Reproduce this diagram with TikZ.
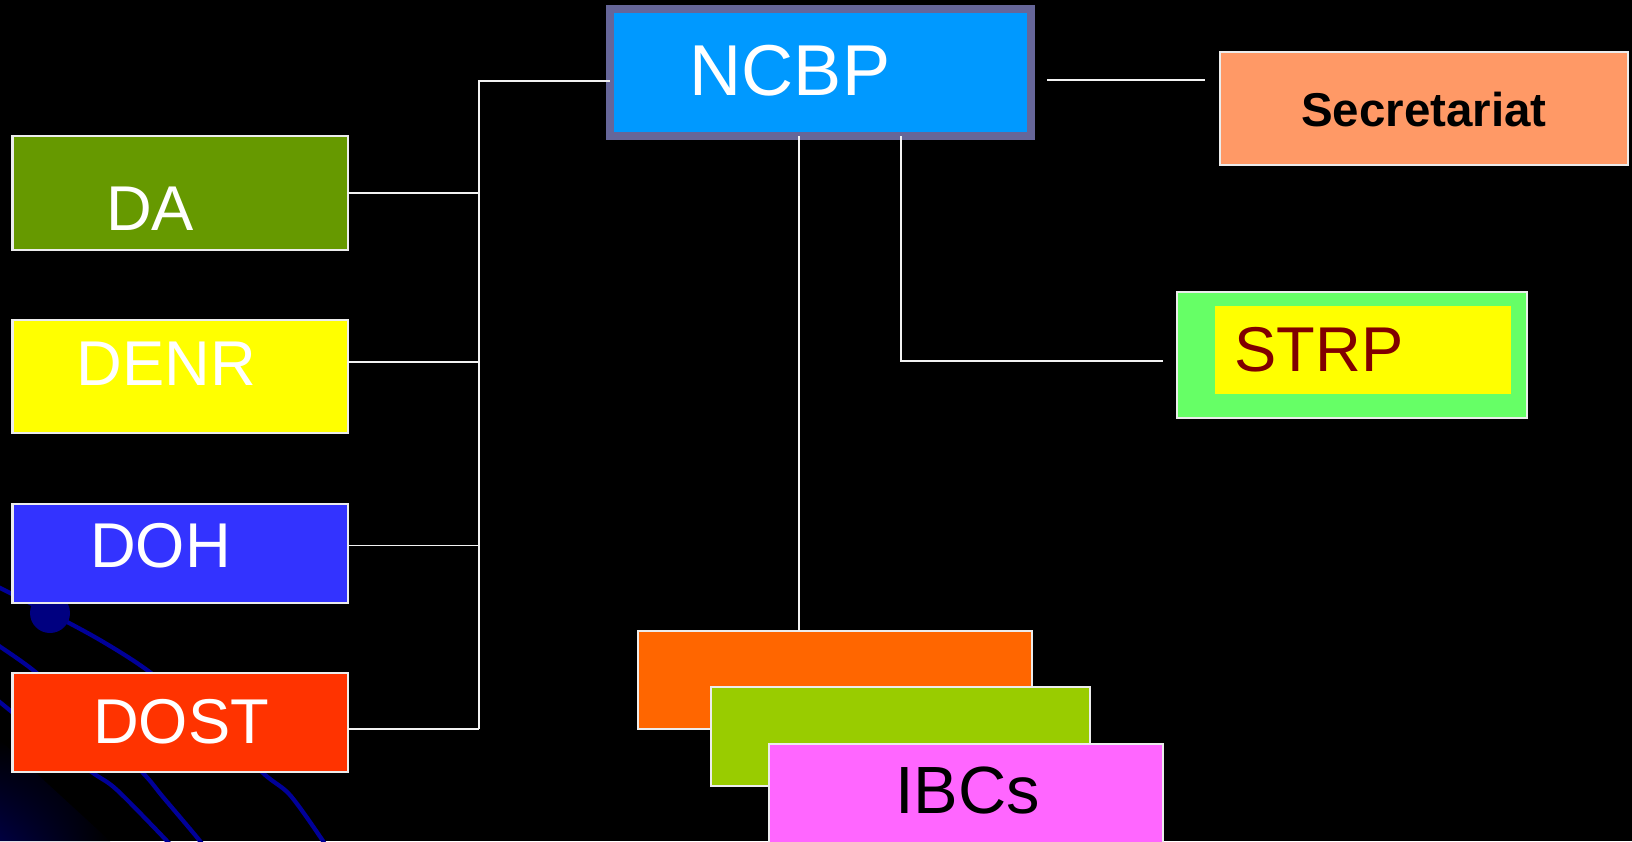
\documentclass[tikz,border=0pt]{standalone}
\usepackage{fontspec}
\setmainfont{Liberation Sans}
\usetikzlibrary{calc,shadings}

\definecolor{ncbpBlue}{HTML}{0099FF}
\definecolor{ncbpFrame}{HTML}{666699}
\definecolor{daGreen}{HTML}{669900}
\definecolor{denrYellow}{HTML}{FFFF00}
\definecolor{dohBlue}{HTML}{3333FF}
\definecolor{dostRed}{HTML}{FF3300}
\definecolor{secOrange}{HTML}{FF9966}
\definecolor{strpGreen}{HTML}{66FF66}
\definecolor{strpText}{HTML}{800000}
\definecolor{ibcOrange}{HTML}{FF6600}
\definecolor{ibcGreen}{HTML}{99CC00}
\definecolor{ibcPink}{HTML}{FF66FF}
\definecolor{swooshBlue}{HTML}{000099}
\definecolor{dotBlue}{HTML}{000080}
\definecolor{cornerBlue}{HTML}{000040}

\tikzset{
  orgbox/.style={draw=white!85!gray, line width=0.6pt, inner sep=0pt, outer sep=0pt},
  orgline/.style={draw=white!90!gray, line width=0.5pt},
  lbl/.style={anchor=base, inner sep=0pt, text=white, font=\fontsize{18}{22}\selectfont},
  swoosh/.style={draw=swooshBlue, line width=1.2pt},
}

\begin{document}
\begin{tikzpicture}[x={(0.01cm,0)}, y={(0,-0.01cm)}]
            % Background of the slide
            \clip (0,0) rectangle (1632,841);
            \fill[black] (0,0) rectangle (1632,841);
            \shade[lower left=cornerBlue, upper right=black,
                   upper left=black, lower right=black] (0,740) -- (110,841) -- (0,841) -- cycle;
            \draw[swoosh] plot[smooth] coordinates {(-10,583) (50,613) (100,640) (147,670) (210,720) (263,773) (290,795) (323,841) (335,862)};
            \draw[swoosh] plot[smooth] coordinates {(-10,640) (33,670) (90,720) (143,773) (163,797) (200,841) (215,862)};
            \draw[swoosh] plot[smooth] coordinates {(-10,694) (12,712) (50,742) (93,773) (117,790) (167,841) (185,862)};
            \fill[dotBlue] (50,613) circle (20);

            % Top box
            \node[draw=ncbpFrame, fill=ncbpBlue, line width=0.08cm, inner sep=0pt, outer sep=0pt,
                  minimum width=4.21cm, minimum height=1.267cm] (ncbp) at (820.5,72.7) {};
            \node[lbl, font=\fontsize{20.5}{24}\selectfont] (ncbpText) at (790,95) {NCBP};

            % Departments on the left
            \node[orgbox, fill=daGreen, minimum width=3.353cm, minimum height=1.143cm] (da) at (180.3,192.9) {};
            \node[orgbox, fill=denrYellow, minimum width=3.353cm, minimum height=1.133cm] (denr) at (180.3,376.7) {};
            \node[orgbox, fill=dohBlue, minimum width=3.353cm, minimum height=0.987cm] (doh) at (180.3,553.3) {};
            \node[orgbox, fill=dostRed, minimum width=3.353cm, minimum height=0.993cm] (dost) at (180.3,722.3) {};
            \node[lbl] (daText) at (150,230) {DA};
            \node[lbl] (denrText) at (166.5,385) {DENR};
            \node[lbl] (dohText) at (160.5,567.7) {DOH};
            \node[lbl] (dostText) at (181,743) {DOST};

            % Secretariat and STRP on the right
            \node[orgbox, fill=secOrange, minimum width=4.077cm, minimum height=1.133cm] (secr) at (1423.8,108.3) {};
            \node[lbl, text=black, font=\bfseries\fontsize{13.5}{16}\selectfont] (secrText) at (1424,126) {Secretariat};
            \node[orgbox, fill=strpGreen, minimum width=3.5cm, minimum height=1.263cm] (strp) at (1351.7,354.8) {};
            \node[fill=denrYellow, inner sep=0pt, minimum width=2.96cm, minimum height=0.88cm] (strpIn) at (1363,349.7) {};
            \node[lbl, text=strpText] (strpLbl) at (1319,371) {STRP};

            % Stack of IBCs
            \node[orgbox, fill=ibcOrange, minimum width=3.934cm, minimum height=0.983cm] (ibcA) at (835,680.2) {};
            \node[orgbox, fill=ibcGreen, minimum width=3.79cm, minimum height=0.99cm] (ibcB) at (900.5,736.2) {};
            \node[orgbox, fill=ibcPink, minimum width=3.937cm, minimum height=0.99cm] (ibcC) at (966.2,793.5) {};
            \node[lbl, text=black, font=\fontsize{19}{23}\selectfont] (ibcText) at (967.5,813) {IBCs};

            % Connectors
            \coordinate (busTop) at (479,80.7);
            \coordinate (tapda) at (479,192.7);
            \coordinate (tapdenr) at (479,362);
            \coordinate (tapdoh) at (479,545.5);
            \coordinate (tapdost) at (479,729.3);
            \draw[orgline] (ncbp.west |- busTop) -- (busTop) -- (tapdost);
            \foreach \b in {da,denr,doh,dost}
                \draw[orgline] (tap\b) -- (tap\b -| \b.east);
            \coordinate (secTap) at (1047,80);
            \draw[orgline, shorten >=0.15cm] (secTap) -- (secTap -| secr.west);
            \coordinate (strpTap) at (900.7,361);
            \draw[orgline, shorten >=0.14cm] (strpTap |- ncbp.south) -- (strpTap) -- (strpTap -| strp.west);
            \coordinate (ibcTap) at (798.7,400);
            \draw[orgline] (ibcTap |- ncbp.south) -- (ibcTap |- ibcA.north);
\end{tikzpicture}
\end{document}
